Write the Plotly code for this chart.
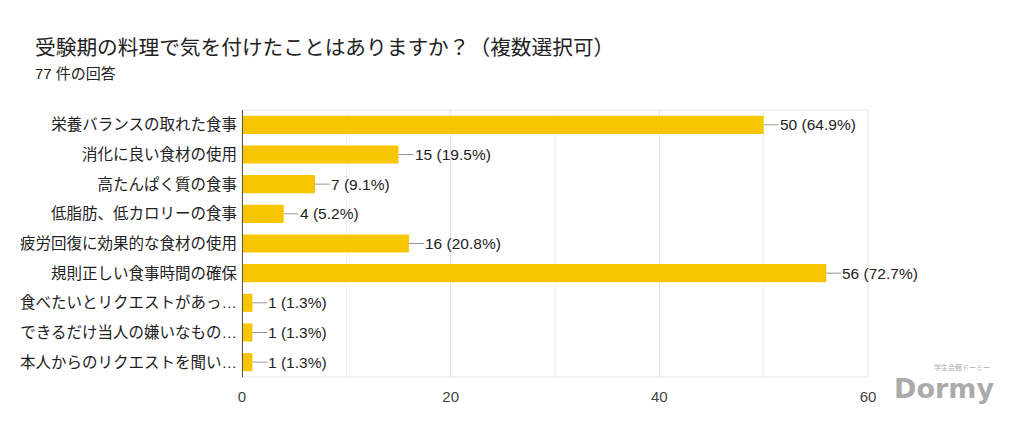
import plotly.graph_objects as go

categories = [
    "栄養バランスの取れた食事",
    "消化に良い食材の使用",
    "高たんぱく質の食事",
    "低脂肪、低カロリーの食事",
    "疲労回復に効果的な食材の使用",
    "規則正しい食事時間の確保",
    "食べたいとリクエストがあっ…",
    "できるだけ当人の嫌いなもの…",
    "本人からのリクエストを聞い…",
]
counts = [50, 15, 7, 4, 16, 56, 1, 1, 1]
percents = ["64.9%", "19.5%", "9.1%", "5.2%", "20.8%", "72.7%", "1.3%", "1.3%", "1.3%"]
tick_vals = [0, 20, 40, 60]

title_text = "受験期の料理で気を付けたことはありますか？（複数選択可）"
subtitle_text = "77 件の回答"

FONT = "Liberation Sans, Arial, Noto Sans CJK JP, sans-serif"
BAR = "#f7c600"

# page body adds an 8px offset; work in screen coords and subtract it
OFF = 8
W, H = 1024 - OFF, 431 - OFF
L = 242 - OFF
T = 110 - OFF
R = W - (868 - OFF)
B = H - (377 - OFF)
pw = W - L - R
ph = H - T - B


def px(x):
    return (x - OFF - L) / pw


def py(y):
    return (H - (y - OFF) - B) / ph


fig = go.Figure()
fig.add_trace(go.Bar(
    x=counts, y=categories, orientation="h",
    marker=dict(color=BAR, line=dict(width=0)),
    hoverinfo="skip",
))

for c, v, p in zip(categories, counts, percents):
    fig.add_annotation(
        x=v, y=c, xref="x", yref="y",
        text=f"{v} ({p})", showarrow=True, arrowhead=0, arrowwidth=1,
        arrowcolor="#999999", ax=15, ay=0, xanchor="left", standoff=0,
        font=dict(family=FONT, size=15.5, color="#222222"),
        borderpad=0,
    )

fig.add_shape(type="rect", xref="x domain", yref="y domain", x0=0, x1=1, y0=0, y1=1,
              line=dict(color="#e6e6e6", width=1), layer="below")

fig.add_annotation(text=title_text, xref="paper", yref="paper", x=px(33), y=py(47),
                   xanchor="left", yanchor="middle", showarrow=False,
                   font=dict(family=FONT, size=20.7, color="#222222"))
fig.add_annotation(text=subtitle_text, xref="paper", yref="paper", x=px(33), y=py(74),
                   xanchor="left", yanchor="middle", showarrow=False,
                   font=dict(family=FONT, size=15, color="#222222"))

fig.add_annotation(text="<b>Dormy</b>", xref="paper", yref="paper", x=px(944), y=py(388),
                   xanchor="center", yanchor="middle", showarrow=False,
                   font=dict(family="DejaVu Sans, sans-serif", size=27, color="#ababab"))
fig.add_annotation(text="学生会館ドーミー", xref="paper", yref="paper", x=px(962), y=py(367),
                   xanchor="center", yanchor="middle", showarrow=False,
                   font=dict(family="Noto Sans CJK JP", size=7, color="#ababab"))

fig.update_layout(
    width=W, height=H,
    margin=dict(l=L, r=R, t=T, b=B, autoexpand=False),
    plot_bgcolor="white", paper_bgcolor="white",
    bargap=0.39,
    showlegend=False,
    font=dict(family=FONT, size=15.5, color="#222222"),
    xaxis=dict(
        range=[0, 60], tickvals=tick_vals, ticks="",
        showgrid=True, gridcolor="#e3e3e3", gridwidth=1,
        minor=dict(dtick=10, showgrid=True, gridcolor="#f0f0f0", gridwidth=1),
        zeroline=False, showline=False,
        tickfont=dict(family=FONT, size=15, color="#444444"),
        ticklabelstandoff=9,
    ),
    yaxis=dict(
        autorange="reversed", showline=False, ticks="",
        tickfont=dict(family=FONT, size=15.5, color="#222222"),
        ticklabelstandoff=4,
    ),
)

fig.add_shape(type="line", xref="x", yref="y domain", x0=0, x1=0, y0=0, y1=1,
              line=dict(color="#555555", width=2), layer="above")

fig.write_html("out.html")
